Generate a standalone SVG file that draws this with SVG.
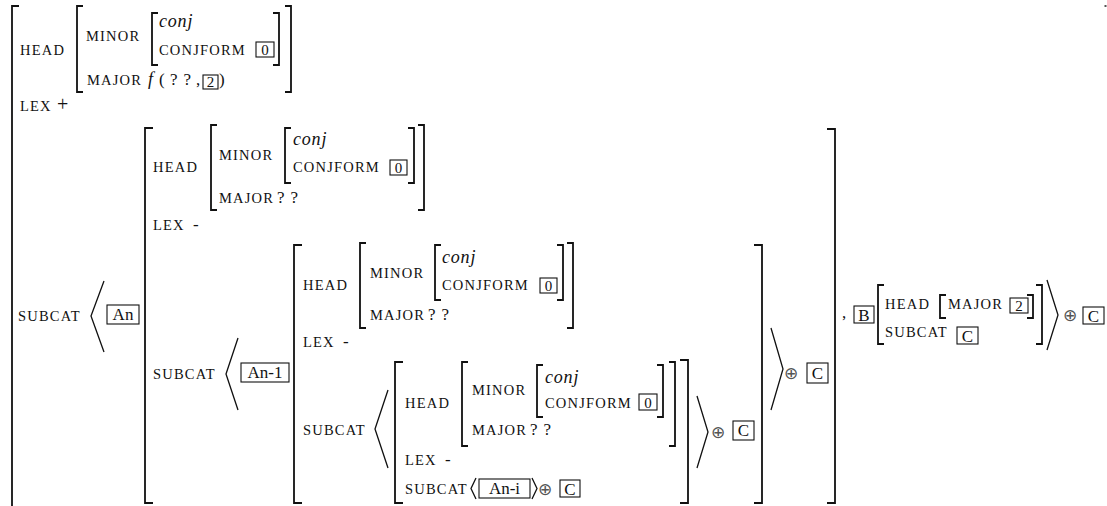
<svg xmlns="http://www.w3.org/2000/svg" width="1107" height="506" viewBox="0 0 1107 506">
<style>
text { font-family: "Liberation Serif", "DejaVu Serif", serif; fill: #111; }
.sc { font-size: 14.5px; letter-spacing: 1.2px; }
.it { font-size: 18px; font-style: italic; letter-spacing: 0.8px; }
.rm { font-size: 17px; }
.qq { font-size: 17px; letter-spacing: 0.8px; }
.bx { font-size: 17px; text-anchor: middle; }
.op { font-family: "DejaVu Sans", sans-serif; font-size: 17px; fill: #555; text-anchor: middle; }
.br { fill: none; stroke: #111; stroke-width: 1.8; }
.ang { fill: none; stroke: #111; stroke-width: 1.3; }
.box { fill: none; stroke: #111; stroke-width: 1.1; }
</style>
<rect width="1107" height="506" fill="#fff"/>
<rect x="1104.5" y="5" width="2" height="2" fill="#555"/>

<g id="outer">
  <path class="br" d="M19,6 H12 V507"/>
  <text class="sc" x="20" y="55">HEAD</text>
  <path class="br" d="M83,6 H77 V92 H83"/>
  <path class="br" d="M285,6 H291 V92 H285"/>
  <text class="sc" x="86" y="41">MINOR</text>
  <path class="br" d="M158,13 H152 V65 H158"/>
  <path class="br" d="M273,13 H279 V65 H273"/>
  <text class="it" x="159" y="27">conj</text>
  <text class="sc" x="159" y="55">CONJFORM</text>
  <rect class="box" x="256" y="42" width="18" height="15"/>
  <text class="bx" x="265" y="55" style="font-size:15px">0</text>
  <text class="sc" x="87" y="85">MAJOR</text>
  <text class="it" x="148" y="85">f</text>
  <text class="rm" x="159" y="85">(</text>
  <text class="qq" x="170" y="85">? ?</text>
  <text class="rm" x="196" y="85">,</text>
  <rect class="box" x="203" y="75" width="15" height="14"/>
  <text class="bx" x="210.5" y="87" style="font-size:15px">2</text>
  <text class="rm" x="219" y="85">)</text>
  <text class="sc" x="20" y="111">LEX</text>
  <text class="rm" x="57" y="111" style="font-size:20px">+</text>
  <text class="sc" x="18" y="321">SUBCAT</text>
  <path class="ang" d="M104,281 L91,316 L104,352"/>
  <rect class="box" x="107" y="305" width="32" height="19"/>
  <text class="bx" x="123" y="320">An</text>
</g>

<g id="level1">
  <path class="br" d="M153,128 H145 V503 H153"/>
  <text class="sc" x="153" y="172">HEAD</text>
  <path class="br" d="M217,125 H211 V210 H217"/>
  <path class="br" d="M418,125 H424 V210 H418"/>
  <text class="sc" x="219" y="160">MINOR</text>
  <path class="br" d="M291,128 H285 V183 H291"/>
  <path class="br" d="M408,128 H414 V183 H408"/>
  <text class="it" x="293" y="145">conj</text>
  <text class="sc" x="293" y="172">CONJFORM</text>
  <rect class="box" x="390" y="160" width="17" height="15"/>
  <text class="bx" x="398.5" y="173" style="font-size:15px">0</text>
  <text class="sc" x="219" y="203">MAJOR</text>
  <text class="qq" x="277" y="203">? ?</text>
  <text class="sc" x="153" y="230">LEX</text>
  <text class="rm" x="193" y="230">-</text>
  <text class="sc" x="153" y="379">SUBCAT</text>
  <path class="ang" d="M238,338 L226,374 L238,410"/>
  <rect class="box" x="241" y="363" width="48" height="19"/>
  <text class="bx" x="265" y="378">An-1</text>
  <path class="ang" d="M771,328 L783,369 L771,410"/>
  <text class="op" x="791" y="379">⊕</text>
  <rect class="box" x="807" y="363" width="21" height="20"/>
  <text class="bx" x="817.5" y="379">C</text>
  <path class="br" d="M827,129 H835 V503 H827"/>
</g>

<g id="level2">
  <path class="br" d="M302,245 H294 V503 H302"/>
  <text class="sc" x="303" y="290">HEAD</text>
  <path class="br" d="M366,243 H360 V328 H366"/>
  <path class="br" d="M567,243 H573 V328 H567"/>
  <text class="sc" x="370" y="278">MINOR</text>
  <path class="br" d="M441,245 H435 V300 H441"/>
  <path class="br" d="M557,245 H563 V300 H557"/>
  <text class="it" x="442" y="263">conj</text>
  <text class="sc" x="442" y="290">CONJFORM</text>
  <rect class="box" x="540" y="278" width="17" height="15"/>
  <text class="bx" x="548.5" y="291" style="font-size:15px">0</text>
  <text class="sc" x="370" y="320">MAJOR</text>
  <text class="qq" x="428" y="320">? ?</text>
  <text class="sc" x="303" y="347">LEX</text>
  <text class="rm" x="343" y="347">-</text>
  <text class="sc" x="303" y="435">SUBCAT</text>
  <path class="ang" d="M388,390 L375,429 L388,468"/>
  <path class="ang" d="M697,396 L708,432 L697,468"/>
  <text class="op" x="718" y="438">⊕</text>
  <rect class="box" x="733" y="421" width="21" height="19"/>
  <text class="bx" x="743.5" y="436">C</text>
  <path class="br" d="M754,245 H762 V503 H754"/>
</g>

<g id="level3">
  <path class="br" d="M403,362 H395 V503 H403"/>
  <text class="sc" x="405" y="408">HEAD</text>
  <path class="br" d="M468,362 H462 V446 H468"/>
  <path class="br" d="M669,362 H675 V446 H669"/>
  <text class="sc" x="472" y="395">MINOR</text>
  <path class="br" d="M543,365 H537 V417 H543"/>
  <path class="br" d="M657,365 H663 V417 H657"/>
  <text class="it" x="545" y="383">conj</text>
  <text class="sc" x="545" y="408">CONJFORM</text>
  <rect class="box" x="639" y="394" width="18" height="16"/>
  <text class="bx" x="648" y="408" style="font-size:15px">0</text>
  <text class="sc" x="472" y="435">MAJOR</text>
  <text class="qq" x="530" y="435">? ?</text>
  <text class="sc" x="405" y="465">LEX</text>
  <text class="rm" x="445" y="465">-</text>
  <text class="sc" x="405" y="494">SUBCAT</text>
  <path class="ang" d="M476,478 L471,488.5 L476,499"/>
  <rect class="box" x="479" y="479" width="51" height="19"/>
  <text class="bx" x="504.5" y="494">An-i</text>
  <path class="ang" d="M532,478 L537,488.5 L532,499"/>
  <text class="op" x="545" y="495">⊕</text>
  <rect class="box" x="560" y="480" width="20" height="17"/>
  <text class="bx" x="570" y="495">C</text>
  <path class="br" d="M680,360 H688 V503 H680"/>
</g>

<g id="b-part">
  <text class="rm" x="842" y="318">,</text>
  <rect class="box" x="854" y="306" width="20" height="17"/>
  <text class="bx" x="864" y="321">B</text>
  <path class="br" d="M884,285 H878 V344 H884"/>
  <path class="br" d="M1036,285 H1042 V344 H1036"/>
  <text class="sc" x="885" y="309">HEAD</text>
  <path class="br" d="M946,295 H940 V318 H946"/>
  <path class="br" d="M1027,295 H1033 V318 H1027"/>
  <text class="sc" x="948" y="309">MAJOR</text>
  <rect class="box" x="1010" y="298" width="18" height="15"/>
  <text class="bx" x="1019" y="311" style="font-size:15px">2</text>
  <text class="sc" x="885" y="337">SUBCAT</text>
  <rect class="box" x="957" y="327" width="21" height="17"/>
  <text class="bx" x="967.5" y="342">C</text>
  <path class="ang" d="M1047,280 L1058,315 L1047,350"/>
  <text class="op" x="1070" y="321">⊕</text>
  <rect class="box" x="1083" y="307" width="21" height="17"/>
  <text class="bx" x="1093.5" y="322">C</text>
</g>
</svg>
